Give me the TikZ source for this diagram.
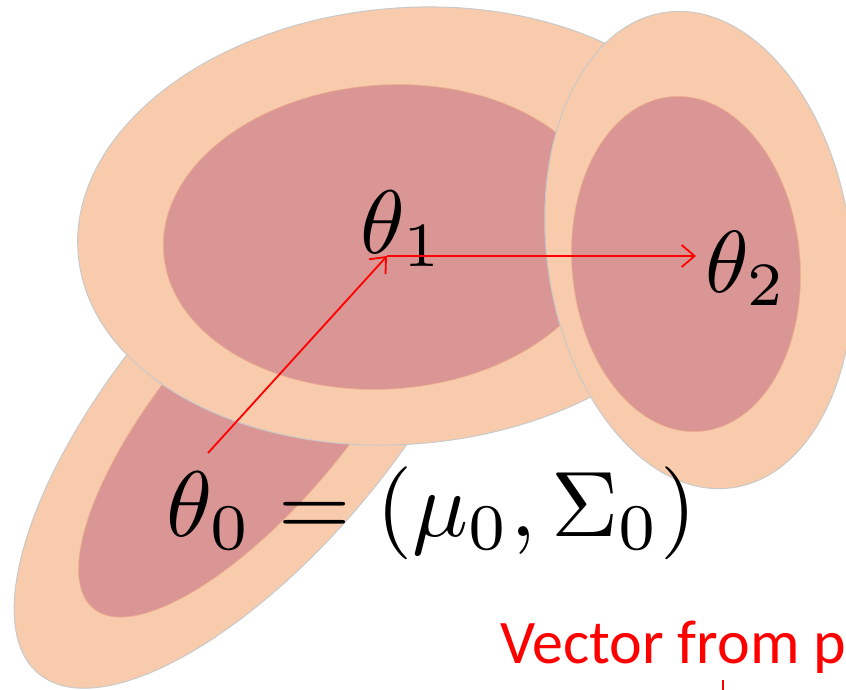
\documentclass[tikz,border=0pt]{standalone}
\usepackage{fontspec}
\newfontfamily\carlito{Carlito}
\usetikzlibrary{arrows.meta}
\definecolor{peach}{HTML}{F8CBAD}
\definecolor{rose}{HTML}{D99694}
\definecolor{rimgray}{HTML}{C9C9C9}
\definecolor{rimorange}{HTML}{F0B08C}
\begin{document}
\begin{tikzpicture}[x=1pt,y=1pt,
  outer/.style={fill=peach,draw=rimgray,line width=1pt},
  inner/.style={fill=rose,draw=rimorange,line width=0.6pt},
  mathlabel/.style={inner sep=0pt,text=black,anchor=base west},
  vec/.style={red,line width=1.8pt,-{Straight Barb[length=13pt,width=22pt,line width=1.8pt]}}]
\clip (0,0) rectangle (846,-689);
\fill[white] (0,0) rectangle (846,-689);
% theta0 ellipse
\draw[outer,rotate around={50:(257,-413)}] (257,-413) ellipse [x radius=340,y radius=138];
\draw[inner,rotate around={50:(257,-413)}] (257,-413) ellipse [x radius=255,y radius=92];
% theta1 ellipse
\draw[outer,rotate around={5:(405,-226)}] (405,-226) ellipse [x radius=328,y radius=218];
\draw[inner,rotate around={4:(386,-237)}] (386,-237) ellipse [x radius=223,y radius=152];
% theta2 ellipse
\draw[outer,rotate around={8:(699,-250)}] (699,-250) ellipse [x radius=152,y radius=240];
\draw[inner,rotate around={5:(686,-264)}] (686,-264) ellipse [x radius=114,y radius=168];
% labels
\node[mathlabel,scale=9.0] (t1) at (359,-253) {$\theta_1$};
\node[mathlabel,scale=8.8] (t2) at (704,-292) {$\theta_2$};
\node[mathlabel,scale=9.3] (t0) at (165,-536) {$\theta_0=(\mu_0,\Sigma_0)$};
% arrows
\coordinate (p0) at (208,-453);
\coordinate (p1) at (387,-256);
\coordinate (p2) at (696,-256);
\draw[vec] (p0) -- (p1);
\draw[vec] (p1) -- (p2);
% red text
\node[anchor=base west,inner sep=0pt,text=red,font=\carlito\fontsize{62}{62}\selectfont] (vt) at (500,-663) {Vector from p};
\coordinate (tk) at (723,-680);
\draw[red,line width=1.5pt] (tk) -- ++(0,-12);
\end{tikzpicture}
\end{document}
